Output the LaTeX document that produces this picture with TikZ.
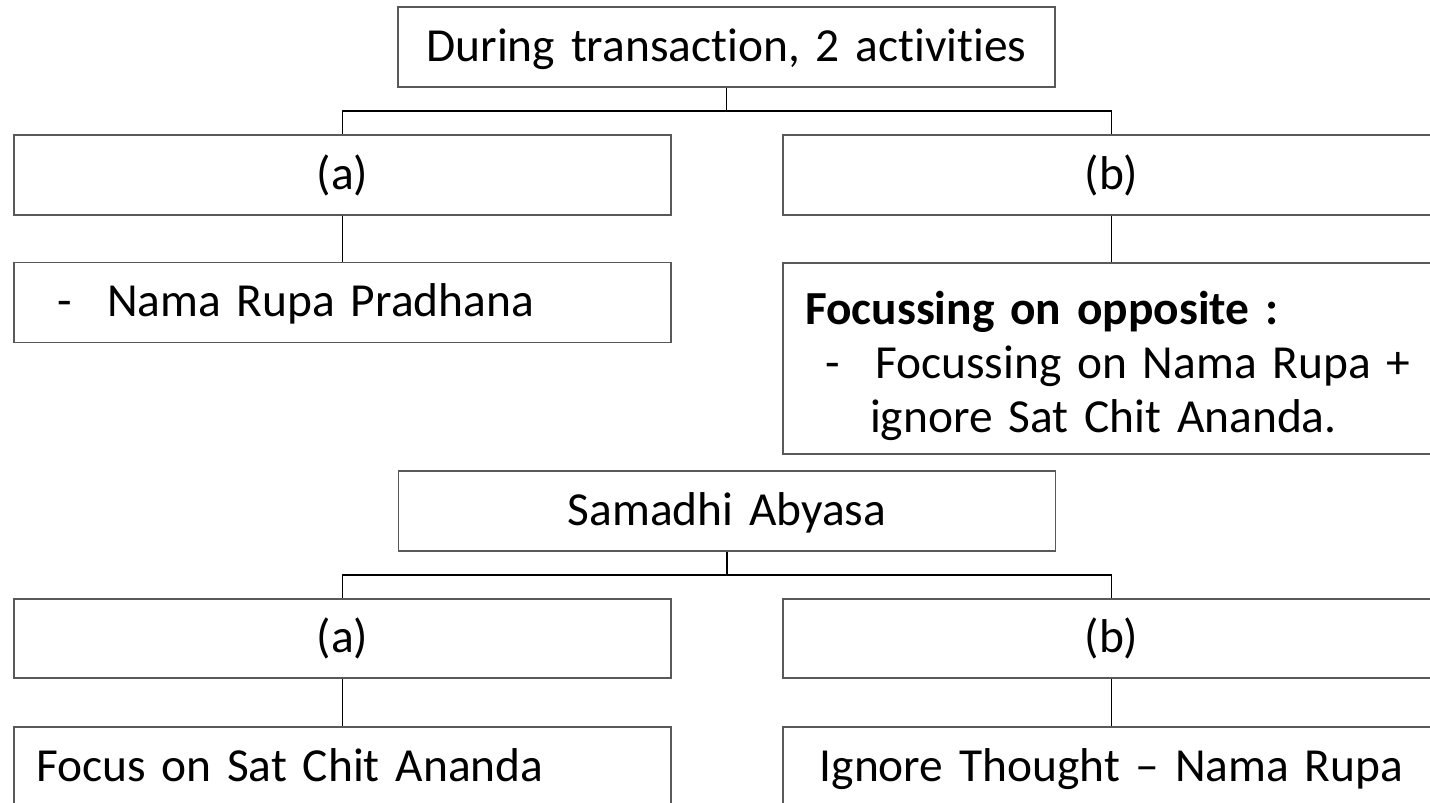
\documentclass[tikz,border=0pt]{standalone}
\usepackage{fontspec}
\setmainfont{Carlito}[Ligatures=NoCommon, WordSpace=0.75]

\definecolor{gristrait}{HTML}{595959}

\tikzset{
  boite/.style={rectangle, draw=gristrait, line width=0.85pt, minimum height=1.6cm,
    inner xsep=0.44cm, inner ysep=0pt, text width=12.26cm, align=center,
    font=\fontsize{27}{30.7}\selectfont},
  ligne/.style={text height=0.75cm, text depth=0.17cm},
  lien/.style={draw=black, line width=0.85pt}
}

\begin{document}
\begin{tikzpicture}[x=0.02cm, y=-0.02cm]

% Cadre de la page
\useasboundingbox (0,0) rectangle (1430,803);
\clip (0,0) rectangle (1430,803);

% Premier arbre : pendant la transaction
\node[boite, ligne] (trans) at (726.5,47) {During transaction, 2 activities};

\foreach \nom/\x/\lettre in {ta/342.5/a, tb/1111.5/b}
\node[boite, ligne] (\nom) at (\x,175) {(\lettre)};

\node[boite, ligne, align=left] (ta2) at (342.5,302.5)
  {\hspace*{0.42cm}\makebox[1cm][l]{-}Nama Rupa Pradhana};

\node[boite, align=left, minimum height=3.82cm] (tb2) at (1111.5,358.5)
  {\rule{0pt}{0.98cm}\textbf{Focussing on opposite :}\\
   \hspace*{0.4cm}\makebox[1cm][l]{-}Focussing on Nama Rupa +\\
   \hspace*{1.3cm}ignore Sat Chit Ananda.};

% Second arbre : Samadhi Abyasa
\node[boite, ligne] (sam) at (727,511) {Samadhi Abyasa};

\foreach \nom/\x/\lettre in {sa/342.5/a, sb/1111.5/b}
\node[boite, ligne, minimum height=1.58cm] (\nom) at (\x,638.5) {(\lettre)};

\node[boite, ligne, align=left] (sa2) at (342.5,767) {Focus on Sat Chit Ananda};
\node[boite, ligne] (sb2) at (1111.5,767) {Ignore Thought – Nama Rupa};

% Les liens du premier arbre
\coordinate (j1) at (726.5,111);
\draw[lien] (trans.south) -- (j1) -| (ta.north);
\draw[lien] (j1) -| (tb.north);
\draw[lien] (ta.south) -- (ta2.north);
\draw[lien] (tb.south) -- (tb2.north);

% Les liens du second arbre
\coordinate (j2) at (727,575);
\draw[lien] (sam.south) -- (j2) -| (sa.north);
\draw[lien] (j2) -| (sb.north);
\draw[lien] (sa.south) -- (sa2.north);
\draw[lien] (sb.south) -- (sb2.north);

\end{tikzpicture}
\end{document}
